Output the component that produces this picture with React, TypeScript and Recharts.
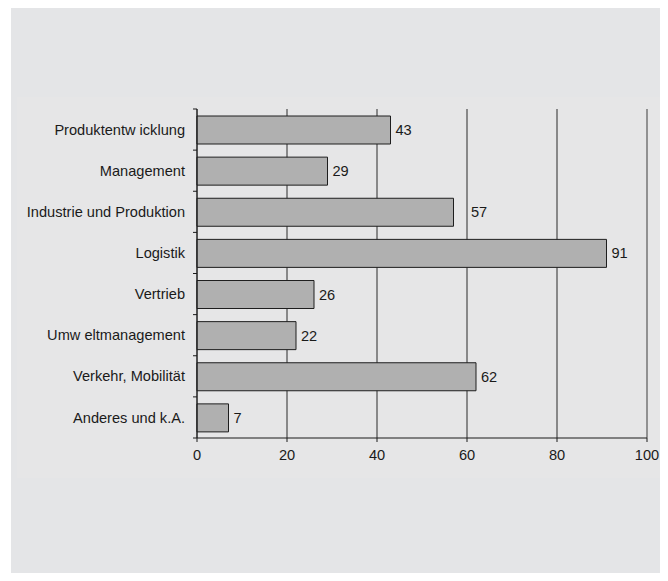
import {
  BarChart,
  Bar,
  XAxis,
  YAxis,
  CartesianGrid,
  ReferenceLine,
  LabelList,
} from "recharts";

const categories = [
  "Produktentw icklung",
  "Management",
  "Industrie und Produktion",
  "Logistik",
  "Vertrieb",
  "Umw eltmanagement",
  "Verkehr, Mobilität",
  "Anderes und k.A.",
];
const values = [43, 29, 57, 91, 26, 22, 62, 7];
const xTicks = [0, 20, 40, 60, 80, 100];

const data = categories.map((name, i) => ({ name, value: values[i] }));

const W = 668;
const H = 581;
const MARGIN = { top: 109, right: 21, bottom: 113, left: 0 };
const Y_AXIS_W = 197;
const X_AXIS_H = 30;
const PLOT_LEFT = MARGIN.left + Y_AXIS_W;
const PLOT_W = W - PLOT_LEFT - MARGIN.right;
const PLOT_H = H - MARGIN.top - MARGIN.bottom - X_AXIS_H;
const BAND = PLOT_H / categories.length;
const FONT = '"Liberation Sans", Arial, sans-serif';
const FS = 14.6;
const INK = "#1a1a1a";

// y ticks sit on the category borders, labels in the middle
const CategoryTick = (props: any) => {
  const { x, y, payload, index } = props;
  const axisX = x + 12;
  const half = BAND / 2;
  return (
    <g>
      <line x1={axisX - 4} x2={axisX} y1={y - half} y2={y - half} stroke={INK} />
      {index === categories.length - 1 && (
        <line x1={axisX - 4} x2={axisX} y1={y + half} y2={y + half} stroke={INK} />
      )}
      <text
        x={x}
        y={y}
        dy="0.35em"
        textAnchor="end"
        fill={INK}
        fontSize={FS}
        fontFamily={FONT}
      >
        {payload.value}
      </text>
    </g>
  );
};

// value label, pushed past a grid line if it would run into it
const ValueLabel = (props: any) => {
  const { x, y, width, height, value } = props;
  const textW = String(value).length * 8;
  let start = x + width + 5;
  const max = xTicks[xTicks.length - 1];
  for (const t of xTicks) {
    const g = PLOT_LEFT + (t / max) * PLOT_W;
    if (start < g && start + textW > g - 2) start = g + 4;
  }
  return (
    <text
      x={start}
      y={y + height / 2}
      dy="0.35em"
      fill={INK}
      fontSize={FS}
      fontFamily={FONT}
    >
      {value}
    </text>
  );
};

export default function App() {
  return (
    <div
      style={{
        position: "relative",
        width: W,
        height: H,
        margin: -8,
        background: "#fff",
        overflow: "hidden",
      }}
    >
      <div
        style={{
          position: "absolute",
          left: 11,
          top: 7,
          right: 0,
          bottom: 0,
          background: "#e4e5e7",
        }}
      />
      <div
        style={{
          position: "absolute",
          left: 17,
          top: 97,
          right: 0,
          height: 381,
          background: "#e6e6e7",
        }}
      />
      <div style={{ position: "absolute", left: 0, top: 0 }}>
        <BarChart
          width={W}
          height={H}
          data={data}
          layout="vertical"
          margin={MARGIN}
        >
          <CartesianGrid horizontal={false} stroke="#2a2a2a" />
          <XAxis
            type="number"
            domain={[0, 100]}
            ticks={xTicks}
            height={X_AXIS_H}
            stroke={INK}
            tickSize={4}
            tickMargin={8}
            tick={{ fill: INK, fontSize: FS, fontFamily: FONT }}
          />
          <XAxis
            xAxisId="top"
            type="number"
            orientation="top"
            domain={[0, 100]}
            height={0}
            tick={false}
            tickLine={false}
            stroke="#9a9a9a"
          />
          <YAxis
            type="category"
            dataKey="name"
            width={Y_AXIS_W}
            stroke={INK}
            tickLine={false}
            tickSize={4}
            tickMargin={8}
            interval={0}
            tick={<CategoryTick />}
          />
          <ReferenceLine x={100} stroke="#9a9a9a" />
          <Bar
            dataKey="value"
            fill="#b0b0b0"
            stroke="#1e1e1e"
            strokeWidth={1}
            barSize={28}
            isAnimationActive={false}
          >
            <LabelList dataKey="value" content={<ValueLabel />} />
          </Bar>
        </BarChart>
      </div>
    </div>
  );
}
